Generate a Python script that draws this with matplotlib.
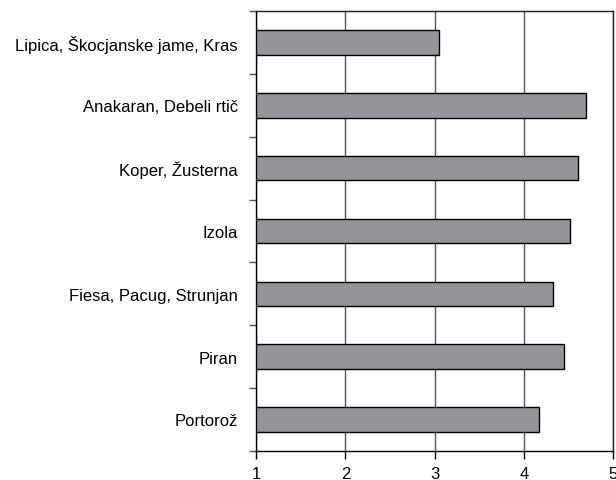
import matplotlib
matplotlib.use('Agg')

import matplotlib.pyplot as plt

plt.rcParams['font.family'] = ['Liberation Sans', 'DejaVu Sans']

places = ['Lipica, Škocjanske jame, Kras', 'Anakaran, Debeli rtič', 'Koper, Žusterna',
          'Izola', 'Fiesa, Pacug, Strunjan', 'Piran', 'Portorož']
scores = [3.05, 4.69, 4.60, 4.51, 4.32, 4.45, 4.17]
x_ticks = [1, 2, 3, 4, 5]

fig = plt.figure(figsize=(6.16, 4.81), dpi=100)
ax = fig.add_axes([0.4156, 0.0609, 0.58, 0.9135])

# bars start at 1, the left edge of the scale
pos = list(range(len(places)))
widths = [s - 1 for s in scores]
ax.barh(pos, widths, left=1, height=0.39, color='#939598', edgecolor='black',
        linewidth=1, zorder=3)

ax.set_xlim(1, 5)
ax.set_ylim(len(places) - 0.5, -0.5)
ax.set_xticks(x_ticks)
ax.set_xticklabels([str(t) for t in x_ticks], fontsize=12)
ax.xaxis.grid(True, color='#555555', linewidth=1, zorder=0)

# category labels in the middle, tick marks on the boundaries
ax.set_yticks(pos)
ax.set_yticklabels(places, fontsize=12)
ax.tick_params(axis='y', which='major', length=0, pad=13)
ax.set_yticks([p + 0.5 for p in range(-1, len(places))], minor=True)
ax.tick_params(axis='y', which='minor', length=5, width=1, color='#555555')
ax.tick_params(axis='x', length=6, width=1, pad=5)

for side in ['left', 'bottom']:
    ax.spines[side].set_color('black')
for side in ['top', 'right']:
    ax.spines[side].set_color('#222222')
for s in ax.spines.values():
    s.set_linewidth(1)

fig.savefig('out.png', dpi=100)
